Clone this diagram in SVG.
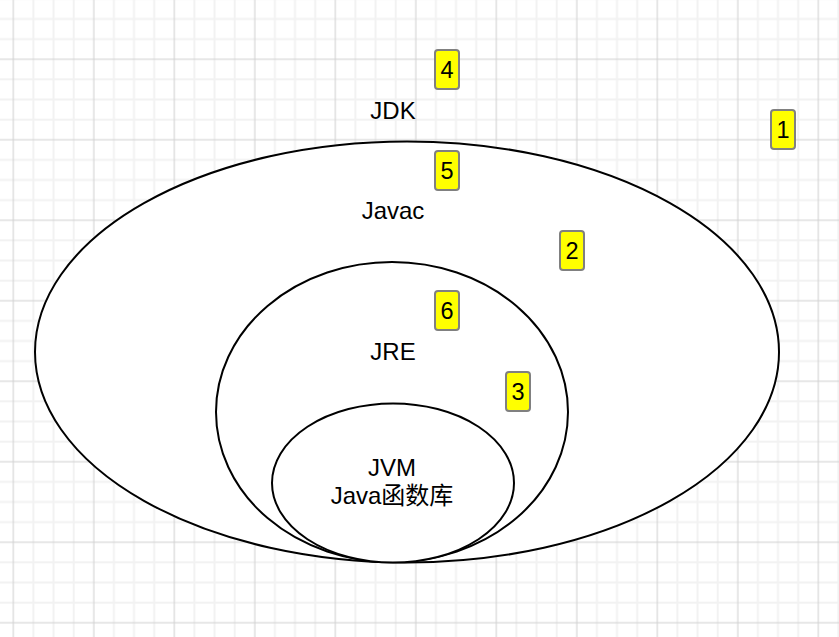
<svg xmlns="http://www.w3.org/2000/svg" width="839" height="637" viewBox="0 0 839 637">
  <defs>
    <pattern id="grid" x="3.3" y="49.3" width="80.5" height="80.5" patternUnits="userSpaceOnUse">
      <path d="M30.125 0V80.5M50.25 0V80.5M70.375 0V80.5M0 30.125H80.5M0 50.25H80.5M0 70.375H80.5" stroke="#f2f2f2" stroke-width="2" fill="none"/>
      <path d="M10 0V80.5M0 10H80.5" stroke="#d0d0d0" stroke-width="1" fill="none"/>
    </pattern>
    <style>
      .shape { fill: #ffffff; stroke: #000000; stroke-width: 2; }
      .label { font-family: "Liberation Sans", "Noto Sans CJK SC", Arial, sans-serif; font-size: 24px; fill: #000000; text-anchor: middle; }
      .badge rect { fill: #ffff00; stroke: #808080; stroke-width: 2; }
      .badge text { font-family: "Liberation Sans", Arial, sans-serif; font-size: 23.5px; fill: #000000; text-anchor: middle; }
    </style>
  </defs>
  <rect x="0" y="0" width="839" height="637" fill="#ffffff"/>
  <rect x="0" y="0" width="839" height="637" fill="url(#grid)"/>

  <g id="jdk">
    <ellipse class="shape" cx="407" cy="352" rx="372" ry="210.5"/>
    <text class="label" x="393" y="119">JDK</text>
    <text class="label" x="393" y="219">Javac</text>
  </g>
  <g id="jre">
    <ellipse class="shape" cx="392" cy="412" rx="176" ry="150"/>
    <text class="label" x="393" y="360">JRE</text>
  </g>
  <g id="jvm">
    <ellipse class="shape" cx="393" cy="483" rx="121" ry="79.5"/>
    <text class="label" x="392" y="476">JVM</text>
    <text class="label" x="392" y="504">Java函数库</text>
  </g>

  <g id="badge-1" class="badge"><rect x="771" y="110" width="24" height="39" rx="3"/><text x="783" y="138">1</text></g>
  <g id="badge-2" class="badge"><rect x="560" y="231" width="24" height="39" rx="3"/><text x="572" y="259">2</text></g>
  <g id="badge-3" class="badge"><rect x="506" y="372" width="24" height="39" rx="3"/><text x="518" y="400">3</text></g>
  <g id="badge-4" class="badge"><rect x="435" y="50" width="24" height="39" rx="3"/><text x="447" y="78">4</text></g>
  <g id="badge-5" class="badge"><rect x="435" y="151" width="24" height="39" rx="3"/><text x="447" y="179">5</text></g>
  <g id="badge-6" class="badge"><rect x="435" y="291" width="24" height="39" rx="3"/><text x="447" y="319">6</text></g>

  <g id="connectors"/>
</svg>
